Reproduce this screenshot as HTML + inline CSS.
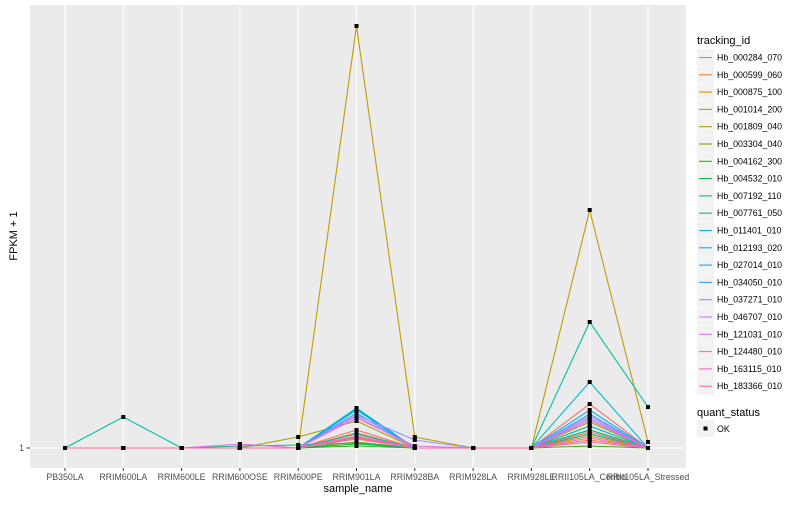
<!DOCTYPE html>
<html><head><meta charset="utf-8"><style>
body{margin:0;background:#fff;font-family:"Liberation Sans",sans-serif}
svg text{font-family:"Liberation Sans",sans-serif}
</style></head><body>
<svg id="chart" width="800" height="500" xmlns="http://www.w3.org/2000/svg">
<rect x="0" y="0" width="800" height="500" fill="#fff"/>
<rect x="30" y="5" width="656" height="463" fill="#EBEBEB"/>
<g id="grid"></g><g id="lines"></g><g id="points"></g><g id="xticks"></g>
<text x="24" y="451" font-size="8.8" fill="#4D4D4D" text-anchor="end">1</text>
<line x1="26.5" y1="448" x2="30" y2="448" stroke="#333" stroke-width="1"/>
<text x="358" y="492" font-size="11" text-anchor="middle" fill="#000">sample_name</text>
<text transform="translate(17,236) rotate(-90)" font-size="11" text-anchor="middle" fill="#000">FPKM + 1</text>
<g id="legend">
<text x="697" y="44" font-size="11">tracking_id</text>
<text x="697" y="416" font-size="11">quant_status</text>
<rect x="697" y="420" width="17" height="17" fill="#F2F2F2"/>
<rect x="703.5" y="426.5" width="4" height="4" fill="#000"/>
<text x="717" y="432" font-size="8.8">OK</text>
</g>
</svg>
<script>
const samples=["PB350LA","RRIM600LA","RRIM600LE","RRIM600OSE","RRIM600PE","RRIM901LA","RRIM928BA","RRIM928LA","RRIM928LE","RRII105LA_Control","RRII105LA_Stressed"];
const ids=["Hb_000284_070","Hb_000599_060","Hb_000875_100","Hb_001014_200","Hb_001809_040","Hb_003304_040","Hb_004162_300","Hb_004532_010","Hb_007192_110","Hb_007761_050","Hb_011401_010","Hb_012193_020","Hb_027014_010","Hb_034050_010","Hb_037271_010","Hb_046707_010","Hb_121031_010","Hb_124480_010","Hb_163115_010","Hb_183366_010"];
const colors=["#F8766D","#EA8331","#D89000","#C09B00","#A3A500","#7CAE00","#39B600","#00BB4E","#00BF7D","#00C1A3","#00BFC4","#00BAE0","#00B0F6","#35A2FF","#9590FF","#C77CFF","#E76BF3","#FA62DB","#FF62BC","#FF6C91"];
const s0=[1,1,1,1,1,37,1,1,1,89,1];
const s1=[1,1,1,1,1,31,1,1,1,17,1];
const s2=[1,1,1,1,1,23,1,1,1,25,1];
const s3=[1,1,1,1,1,845,23,1,1,477,13];
const s4=[1,1,1,1,23,55,1,1,1,53,1];
const s5=[1,1,1,1,1,13,1,1,1,45,1];
const s6=[1,1,1,1,1,5,1,1,1,5,1];
const s7=[1,1,1,1,1,9,1,1,1,37,1];
const s8=[1,1,1,5,7,11,1,1,1,29,1];
const s9=[1,63,1,1,1,29,1,1,1,253,83];
const s10=[1,1,1,1,1,81,1,1,1,133,1];
const s11=[1,1,1,1,1,79,1,1,1,45,1];
const s12=[1,1,1,1,1,77,1,1,1,77,1];
const s13=[1,1,1,1,1,71,1,1,1,69,1];
const s14=[1,1,1,1,1,67,17,1,1,61,1];
const s15=[1,1,1,1,1,65,1,1,1,65,1];
const s16=[1,1,1,9,1,61,5,1,1,57,1];
const s17=[1,1,1,1,1,25,1,1,1,21,1];
const s18=[1,1,1,1,1,21,1,1,1,13,1];
const s19=[1,1,1,1,1,19,1,1,1,33,1];
const series=[s0,s1,s2,s3,s4,s5,s6,s7,s8,s9,s10,s11,s12,s13,s14,s15,s16,s17,s18,s19];
const NS="http://www.w3.org/2000/svg";
function xS(i){return 65+i*58.3;}
function yS(v){return 448-(v-1)*0.5;}
function mk(tag,attrs,parent){const e=document.createElementNS(NS,tag);for(const k in attrs)e.setAttribute(k,attrs[k]);parent.appendChild(e);return e;}
const grid=document.getElementById('grid'),lines=document.getElementById('lines'),pts=document.getElementById('points'),xt=document.getElementById('xticks'),leg=document.getElementById('legend');
let hl=mk('line',{x1:30,x2:686,y1:yS(1),y2:yS(1),stroke:'#fff','stroke-width':1.1},grid);


samples.forEach((s,i)=>{
  const g=mk('line',{x1:xS(i),x2:xS(i),y1:5,y2:468,stroke:'#fff','stroke-width':1.1},grid);
  
  
  mk('line',{x1:xS(i),x2:xS(i),y1:468,y2:471,stroke:'#333'},xt);
  const t=mk('text',{x:xS(i),y:480,'font-size':8.8,fill:'#4D4D4D','text-anchor':'middle'},xt);
  t.textContent=s;
  
  
});
series.forEach((vals,k)=>{
  const d=vals.map((v,i)=>(i?'L':'M')+xS(i)+','+yS(v)).join(' ');
  const p=mk('path',{d:d,fill:'none',stroke:colors[k],'stroke-width':1.1},lines);
  
  
  vals.forEach((v,i)=>{
    const r=mk('rect',{x:xS(i)-2,y:yS(v)-2,width:4,height:4,fill:'#000'},pts);
    
    
  });
  const y0=49+k*17.3;
  mk('rect',{x:697,y:y0,width:17,height:17,fill:'#F2F2F2'},leg);
  mk('line',{x1:699,x2:712,y1:y0+8.5,y2:y0+8.5,stroke:colors[k],'stroke-width':1.1},leg);
  const t=mk('text',{x:717,y:y0+11.5,'font-size':8.8,fill:'#000'},leg);
  t.textContent=ids[k];
  
  
});
</script>
</body></html>
